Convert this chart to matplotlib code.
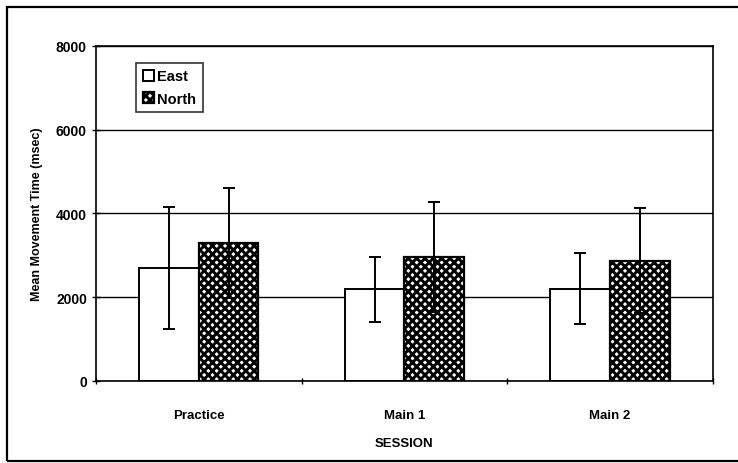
import numpy as np
import matplotlib.pyplot as plt
from matplotlib.patches import Rectangle

sessions = ["Practice", "Main 1", "Main 2"]
east_mean = [2700, 2190, 2200]
east_err = [1460, 780, 850]
north_mean = [3290, 2960, 2870]
north_err = [1320, 1310, 1260]

plt.rcParams["font.family"] = ["Liberation Sans", "DejaVu Sans"]
plt.rcParams["font.weight"] = "bold"
plt.rcParams["hatch.linewidth"] = 2.1


def main():
    fig = plt.figure(figsize=(7.38, 4.64), dpi=100)
    ax = fig.add_axes([0.130, 0.177, 0.836, 0.722])

    x = np.arange(len(sessions))
    w = 0.29

    ax.set_axisbelow(True)
    ax.yaxis.grid(True, color="black", linewidth=1.0)

    ax.bar(x - w / 2, east_mean, w, color="white", edgecolor="black",
           linewidth=1.4, label="East", zorder=2)
    ax.bar(x + w / 2, north_mean, w, color="white", edgecolor="black",
           hatch="xxxx", linewidth=1.6, label="North", zorder=2)

    ax.errorbar(x - w / 2, east_mean, yerr=east_err, fmt="none",
                ecolor="black", elinewidth=1.4, capsize=4, capthick=1.4, zorder=3)
    ax.errorbar(x + w / 2, north_mean, yerr=north_err, fmt="none",
                ecolor="black", elinewidth=1.4, capsize=4, capthick=1.4, zorder=3)

    ax.set_xlim(-0.5, len(sessions) - 0.5)
    ax.set_ylim(0, 8000)
    ax.set_yticks([0, 2000, 4000, 6000, 8000])
    ax.set_xticks(x)
    ax.set_xticklabels(sessions, fontsize=9.5, fontweight="bold")
    ax.set_xticks(np.arange(len(sessions) + 1) - 0.5, minor=True)
    ax.tick_params(axis="x", which="major", length=0, pad=20)
    ax.tick_params(axis="x", which="minor", length=5, direction="inout", width=1)
    ax.tick_params(axis="y", length=6, direction="inout", width=1, labelsize=10)
    for lbl in ax.get_yticklabels():
        lbl.set_fontweight("bold")

    for sp in ax.spines.values():
        sp.set_linewidth(1.2)
        sp.set_color("black")

    ax.set_xlabel("SESSION", fontsize=9.5, fontweight="bold", labelpad=12)
    ax.set_ylabel("Mean Movement Time (msec)", fontsize=9, fontweight="bold", labelpad=9)

    leg = ax.legend(loc="upper left", bbox_to_anchor=(0.065, 0.95), fontsize=10.5,
                    frameon=True, fancybox=False, edgecolor="black",
                    handlelength=0.8, handleheight=0.8, handletextpad=0.2,
                    borderpad=0.45, labelspacing=0.6, borderaxespad=0)
    leg.get_frame().set_linewidth(1.2)

    fig.patches.append(Rectangle((7 / 738, 2 / 464), 740 / 738, 454 / 464,
                                 transform=fig.transFigure, fill=False,
                                 edgecolor="black", linewidth=1.6))

    fig.savefig("out.png", dpi=100)


if __name__ == "__main__":
    main()
